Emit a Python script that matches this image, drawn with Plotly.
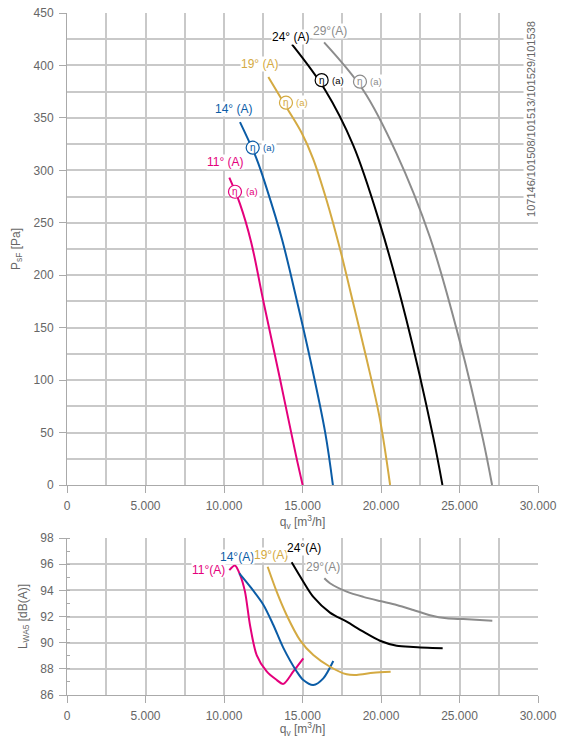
import plotly.graph_objects as go

# ---------------- data ----------------
series_names = ["11°", "14°", "19°", "24°", "29°"]
colors = ["#e4007c", "#0b5ca6", "#d4aa42", "#000000", "#8c8c8c"]

# pressure curves  q_v [m3/h] -> P_sF [Pa]
p_q11 = [10339, 11017, 11723, 12511, 13574, 14574, 15010]
p_p11 = [293, 268, 232, 175, 100.6, 29, 0]
p_q14 = [11017, 12076, 12712, 13681, 14638, 15489, 16447, 16936]
p_p14 = [346, 311, 283, 235, 176, 120, 50, 0]
p_q19 = [12823, 14024, 14936, 15678, 16525, 17373, 18220, 19068, 19915, 20580]
p_p19 = [389, 359, 336, 311, 272, 226, 174, 121, 64, 0]
p_q24 = [14330, 16422, 18226, 19924, 21621, 23319, 23913]
p_p24 = [420, 377, 324, 249.4, 157.3, 46.1, 0]
p_q29 = [16375, 18862, 20985, 23107, 25017, 26503, 27076]
p_p29 = [422, 376.6, 316.2, 236.7, 137, 43, 0]

# sound power curves q_v [m3/h] -> L_WA5 [dB(A)]
s_q11 = [10338, 10700, 11018, 11336, 11655, 12081, 12718, 13300, 13780, 14415, 15052]
s_l11 = [95.55, 95.9, 95.2, 93.9, 91.35, 89.05, 87.8, 87.2, 86.85, 87.8, 88.8]
s_q14 = [10975, 11655, 12505, 13142, 13780, 14629, 15052, 15689, 16325, 16962]
s_l14 = [95.3, 94.3, 92.9, 91.35, 89.6, 87.8, 87.14, 86.76, 87.27, 88.6]
s_q19 = [12781, 13354, 13993, 14840, 15689, 16750, 17814, 18451, 19510, 20614]
s_l19 = [95.8, 93.9, 92.1, 90.2, 89.05, 88.16, 87.58, 87.53, 87.7, 87.78]
s_q24 = [14309, 15052, 15689, 16750, 17814, 18875, 19935, 21000, 22055, 23928]
s_l24 = [96.14, 94.66, 93.5, 92.3, 91.6, 90.84, 90.15, 89.77, 89.67, 89.57]
s_q29 = [16389, 16750, 17814, 18875, 19935, 21000, 22055, 23118, 24180, 25241, 27090]
s_l29 = [94.92, 94.54, 93.9, 93.5, 93.18, 92.88, 92.5, 92.1, 91.86, 91.8, 91.68]

# label positions (data coords)
top_label_text = ["11° (A)", "14° (A)", "19° (A)", "24° (A)", "29°(A)"]
top_label_q = [10127, 10573, 12292, 14267, 16750]
top_label_p = [308, 358.4, 401, 427, 432.8]
eta_q = [10700, 11827, 13948, 16220, 18661]
eta_p = [279.6, 321.6, 364.5, 386, 384.5]
eta_a_q = [11250, 12380, 14480, 16760, 19200]

bot_label_text = ["11°(A)", "14°(A)", "19°(A)", "24°(A)", "29°(A)"]
bot_label_q = [9044, 10827, 12993, 15095, 16305]
bot_label_l = [95.55, 96.55, 96.7, 97.24, 95.78]

side_text = "107146/101508/101513/101529/101538"

# ---------------- figure ----------------
FONT = "Liberation Sans, Arial, sans-serif"
GRID = "#c9c9c9"
TICKC = "#666666"

fig = go.Figure()

p_q = [p_q11, p_q14, p_q19, p_q24, p_q29]
p_p = [p_p11, p_p14, p_p19, p_p24, p_p29]
s_q = [s_q11, s_q14, s_q19, s_q24, s_q29]
s_l = [s_l11, s_l14, s_l19, s_l24, s_l29]

for i in range(5):
    fig.add_trace(go.Scatter(x=p_q[i], y=p_p[i], mode="lines",
                             line=dict(color=colors[i], width=2, shape="spline", smoothing=1.0),
                             xaxis="x", yaxis="y", hoverinfo="skip"))
for i in range(5):
    fig.add_trace(go.Scatter(x=s_q[i], y=s_l[i], mode="lines",
                             line=dict(color=colors[i], width=2, shape="spline", smoothing=0.8),
                             xaxis="x2", yaxis="y2", hoverinfo="skip"))

# circles for eta labels
for i in range(5):
    fig.add_trace(go.Scatter(x=[eta_q[i]], y=[eta_p[i]], mode="markers",
                             marker=dict(symbol="circle", size=13, color="white",
                                         line=dict(color=colors[i], width=1.2)),
                             xaxis="x", yaxis="y", hoverinfo="skip"))

ann = []
for i in range(5):
    ann.append(dict(x=top_label_q[i], y=top_label_p[i], xref="x", yref="y",
                    text=top_label_text[i], showarrow=False, bgcolor="white",
                    font=dict(family=FONT, size=12, color=colors[i]), borderpad=0))
    ann.append(dict(x=eta_q[i], y=eta_p[i], xref="x", yref="y", text="η",
                    showarrow=False, font=dict(family=FONT, size=10, color=colors[i])))
    ann.append(dict(x=eta_a_q[i], y=eta_p[i], xref="x", yref="y", text="(a)", xanchor="left",
                    showarrow=False, bgcolor="white", borderpad=1,
                    font=dict(family=FONT, size=9.5, color=colors[i])))
    ann.append(dict(x=bot_label_q[i], y=bot_label_l[i], xref="x2", yref="y2",
                    text=bot_label_text[i], showarrow=False, bgcolor="white", borderpad=0,
                    font=dict(family=FONT, size=12, color=colors[i])))

ann.append(dict(x=29552, y=349, xref="x", yref="y", text=side_text, textangle=-90,
                showarrow=False, bgcolor="white", borderpad=1,
                font=dict(family=FONT, size=11, color="#666666")))

axis_common = dict(showline=True, linecolor="#aaaaaa", linewidth=1, automargin=False,
                   ticks="outside", ticklen=7, tickcolor="#aaaaaa", tickwidth=1,
                   ticklabelstandoff=3,
                   gridcolor=GRID, gridwidth=1.5, zeroline=False,
                   tickfont=dict(family=FONT, size=12, color=TICKC))

fig.update_layout(
    width=565, height=738,
    margin=dict(l=67, r=27, t=13, b=43),
    paper_bgcolor="white", plot_bgcolor="white",
    showlegend=False,
    separators=",.",
    annotations=ann,
    xaxis=dict(domain=[0, 1], range=[0, 30000], dtick=5000, tickformat=",d", anchor="y",
               minor=dict(dtick=2500, showgrid=True, gridcolor=GRID, gridwidth=1.5),
               title=dict(text="q<sub>v</sub> [m<sup>3</sup>/h]", standoff=3,
                          font=dict(family=FONT, size=12, color=TICKC)),
               **axis_common),
    yaxis=dict(domain=[0.3079, 1], range=[0, 450], dtick=50, anchor="x",
               minor=dict(dtick=25, showgrid=True, gridcolor=GRID, gridwidth=1.5),
               title=dict(text="P<sub>sF</sub> [Pa]", standoff=10,
                          font=dict(family=FONT, size=12, color=TICKC)),
               **axis_common),
    xaxis2=dict(domain=[0, 1], range=[0, 30000], dtick=5000, tickformat=",d", anchor="y2",
                minor=dict(dtick=2500, showgrid=True, gridcolor=GRID, gridwidth=1.5),
                title=dict(text="q<sub>v</sub> [m<sup>3</sup>/h]", standoff=3,
                           font=dict(family=FONT, size=12, color=TICKC)),
                **axis_common),
    yaxis2=dict(domain=[0, 0.2302], range=[86, 98], dtick=2, anchor="x2",
                minor=dict(dtick=1, showgrid=False, ticks="inside", ticklen=3, tickcolor="#aaaaaa"),
                title=dict(text="L<sub>WA5</sub> [dB(A)]", standoff=10,
                           font=dict(family=FONT, size=12, color=TICKC)),
                **axis_common),
)

fig.write_html("out.html")
